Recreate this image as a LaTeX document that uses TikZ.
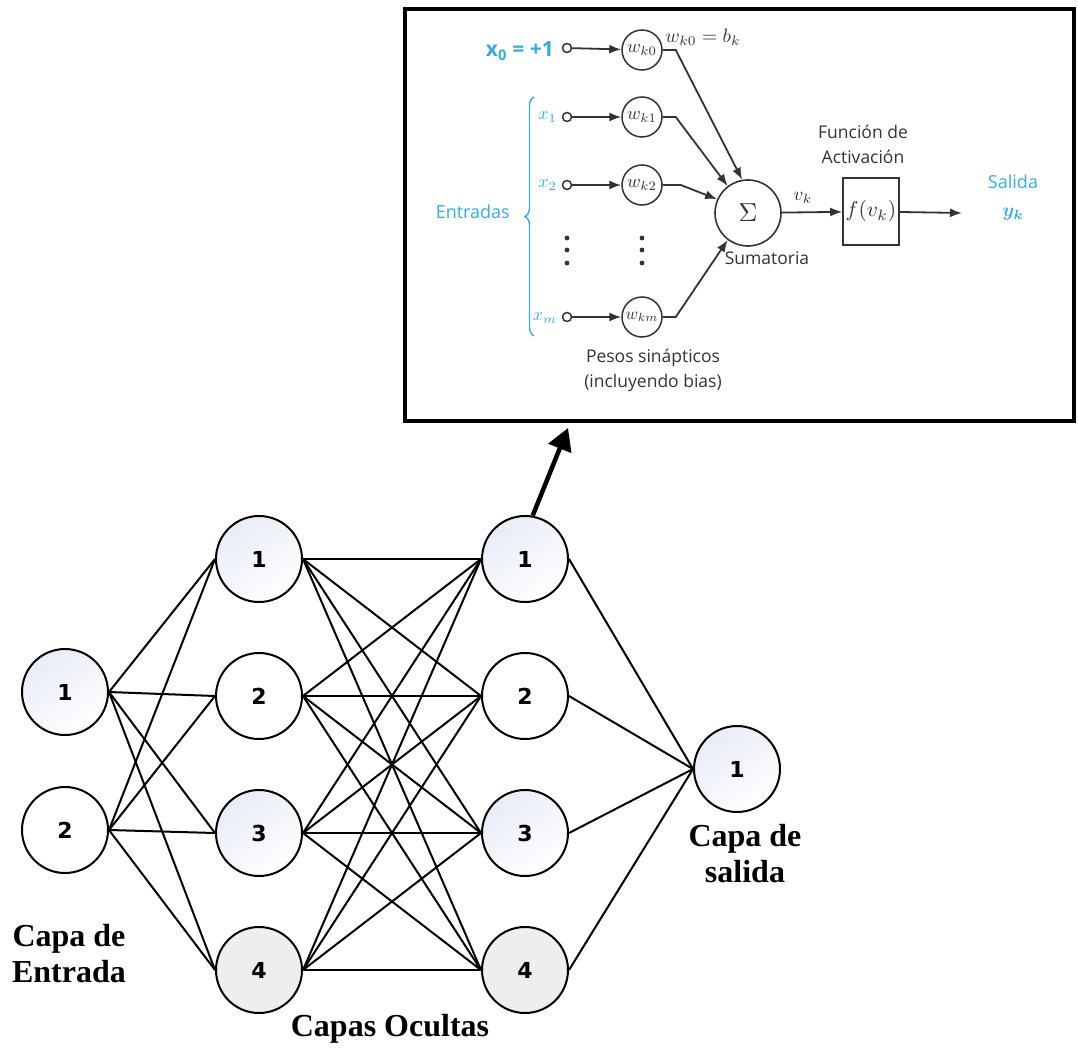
\documentclass[tikz,border=0pt]{standalone}
\usepackage{graphicx}
\usepackage{amsmath}
\usepackage{fontspec}
\setmainfont{Liberation Serif}
\newfontfamily\osans{Open Sans}
\newfontfamily\dvs{DejaVu Sans}
\usetikzlibrary{arrows.meta,decorations.pathreplacing,calc}
\newcommand\mysc[2]{\scalebox{#1}{$#2$}}
\definecolor{lblue}{HTML}{33ADE3}
\definecolor{igray}{HTML}{333333}
\definecolor{nblue}{HTML}{E8ECF6}
\definecolor{ngray}{HTML}{EEEEEE}
\tikzset{
  neuron/.style={circle, draw, line width=2pt, minimum size=86pt, inner sep=0pt,
     font=\dvs\bfseries\fontsize{22}{24}\selectfont},
  nshade/.style={top color=nblue, bottom color=white, shading angle=35},
  ngrey/.style={fill=ngray},
  link/.style={line width=2pt},
  biglbl/.style={font=\bfseries\fontsize{32}{36}\selectfont, align=center},
  insetlbl/.style={font=\osans\fontsize{17.5}{25}\selectfont, text=igray, align=center, inner sep=0pt},
  bluelbl/.style={font=\osans\fontsize{18}{24}\selectfont, text=lblue, inner sep=0pt},
  mathlbl/.style={text=lblue, inner sep=0pt},
  weight/.style={circle, draw=igray, line width=1.5pt, minimum size=40pt, inner sep=0pt, text=igray},
  inpt/.style={circle, draw=igray, line width=1.5pt, minimum size=9pt, inner sep=0pt},
  sarr/.style={draw=igray, line width=1.8pt, -{Latex[length=12pt,width=9pt]}},
}
\begin{document}
\begin{tikzpicture}[x=1pt,y=-1pt]
\useasboundingbox (0,0) rectangle (1078,1051);

% ---------------- inset box ----------------
\node[draw, line width=4.5pt, minimum width=669pt, minimum height=412pt, inner sep=0pt] (inset) at (739.5,215) {};

% inputs
\node[inpt] (s0) at (567,48) {};
\node[inpt] (s1) at (567,117) {};
\node[inpt] (s2) at (567,185) {};
\node[inpt] (sm) at (567,317) {};
\node[weight] (w0) at (642,50) {\mysc{1.85}{w_{k0}}};
\node[weight] (w1) at (642,117) {\mysc{1.85}{w_{k1}}};
\node[weight] (w2) at (642,185) {\mysc{1.85}{w_{k2}}};
\node[weight] (wm) at (642,317) {\mysc{1.7}{w_{km}}};
\node[circle, draw=igray, line width=1.6pt, minimum size=66pt, inner sep=0pt, text=igray] (sig) at (748,213) {\mysc{2.6}{\Sigma}};
\node[draw=igray, line width=1.6pt, minimum width=56pt, minimum height=67pt, inner sep=0pt,
      text=igray] (fbox) at (871,211.5) {\mysc{2.15}{f(v_k)}};
\coordinate (yout) at (962,213);

\foreach \a/\b in {s0/w0,s1/w1,s2/w2,sm/wm} \draw[sarr] (\a) -- (\b);
\draw[sarr] (w0.east) -- ++(13,0) -- (sig.100);
\draw[sarr] (w1.east) -- ++(13,0) -- (sig.127);
\draw[sarr] (w2.east) -- ++(18,0) -- (sig.156);
\draw[sarr] (wm.east) -- ++(13,0) -- (sig.233);
\draw[sarr] (sig) -- (fbox);
\draw[sarr] (fbox) -- (yout);

% dots
\foreach \xx in {567,642} \foreach \yy in {238,250,263} \fill[igray] (\xx,\yy) circle (2.4pt);

% labels
\node[bluelbl, anchor=east, font=\osans\bfseries\fontsize{21}{24}\selectfont] (x0l) at (554,51) {x\textsubscript{0} = +1};
\node[mathlbl, anchor=east] (x1l) at (557,117) {\mysc{1.8}{x_1}};
\node[mathlbl, anchor=east] (x2l) at (557,185) {\mysc{1.8}{x_2}};
\node[mathlbl, anchor=east] (xml) at (557,318) {\mysc{1.8}{x_m}};
\draw[lblue, line width=1.4pt, decorate, decoration={brace, amplitude=9pt}] (534,336) -- (534,97);
\node[bluelbl, anchor=east] (entr) at (510,212) {Entradas};
\node[text=igray, inner sep=0pt] (wb) at (703,37) {\mysc{1.95}{w_{k0} = b_k}};
\node[insetlbl] (pesos) at (653,370) {Pesos sinápticos\\(incluyendo bias)};
\node[insetlbl] (suma) at (767,258) {Sumatoria};
\node[text=igray, inner sep=0pt] (vk) at (803,198) {\mysc{1.9}{v_k}};
\node[insetlbl] (func) at (863,144) {Función de\\Activación};
\node[bluelbl] (sal) at (1013,182) {Salida};
\node[mathlbl] (yk) at (1013,214) {\mysc{1.9}{\boldsymbol{y_k}}};

% ---------------- network ----------------
\node[neuron, nshade] (i1) at (65,692) {1};
\node[neuron] (i2) at (65,830) {2};
\node[neuron, nshade] (a1) at (259,559) {1};
\node[neuron] (a2) at (259,696) {2};
\node[neuron, nshade] (a3) at (259,833) {3};
\node[neuron, ngrey] (a4) at (259,970) {4};
\node[neuron, nshade] (b1) at (525,559) {1};
\node[neuron] (b2) at (525,696) {2};
\node[neuron, nshade] (b3) at (525,833) {3};
\node[neuron, ngrey] (b4) at (525,970) {4};
\node[neuron, nshade] (o1) at (737,769) {1};

\foreach \i in {1,2} \foreach \j in {1,...,4} \draw[link] (i\i.east) -- (a\j.west);
\foreach \i in {1,...,4} \foreach \j in {1,...,4} \draw[link] (a\i.east) -- (b\j.west);
\foreach \i in {1,...,4} \draw[link] (b\i.east) -- (o1.west);

\coordinate (tip) at (568,428);
\draw[line width=4.5pt, -{Triangle[length=22pt,width=24pt]}] (b1.80) -- (tip);

\node[biglbl] (lin) at (69,954) {Capa de\\Entrada};
\node[biglbl] (lhid) at (390,1029) {Capas Ocultas};
\node[biglbl] (lout) at (745,854) {Capa de\\salida};
\end{tikzpicture}
\end{document}
